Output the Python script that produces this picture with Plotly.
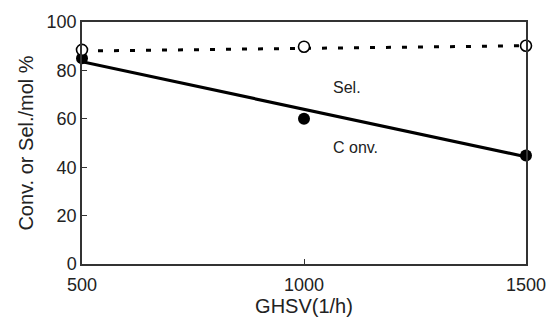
import plotly.graph_objects as go

ghsv = [500, 1000, 1500]
sel = [88.5, 89.8, 90.2]
conv = [85.0, 60.0, 44.8]
sel_fit_x = [500, 1500]
sel_fit_y = [88.0, 90.2]
conv_fit_x = [500, 1500]
conv_fit_y = [83.6, 44.3]

font = "Liberation Sans, Arial, sans-serif"
fig = go.Figure()
fig.add_trace(go.Scatter(x=sel_fit_x, y=sel_fit_y, mode="lines",
                         line=dict(color="black", width=3, dash="5px,11px"), cliponaxis=False))
fig.add_trace(go.Scatter(x=conv_fit_x, y=conv_fit_y, mode="lines",
                         line=dict(color="black", width=3.2), cliponaxis=False))
fig.add_trace(go.Scatter(x=ghsv, y=conv, mode="markers",
                         marker=dict(color="black", size=12), cliponaxis=False))
fig.add_trace(go.Scatter(x=ghsv, y=sel, mode="markers",
                         marker=dict(color="white", size=11, line=dict(color="black", width=1.6)),
                         cliponaxis=False))

fig.add_annotation(x=1060, y=73, text="Sel.", showarrow=False, xanchor="left",
                   font=dict(family=font, size=16, color="#222"))
fig.add_annotation(x=1060, y=48, text="C onv.", showarrow=False, xanchor="left",
                   font=dict(family=font, size=16, color="#222"))

fig.update_layout(
    width=558, height=323, showlegend=False,
    plot_bgcolor="white", paper_bgcolor="white",
    margin=dict(l=82, r=32, t=20, b=59),
    font=dict(family=font, color="#222"),
)
fig.update_xaxes(range=[500, 1500], tickvals=[500, 1000, 1500], ticks="inside", ticklen=5,
                 tickcolor="#333", showline=True, linecolor="#333", linewidth=1.5, mirror=True,
                 showgrid=False, zeroline=False, tickfont=dict(size=18), ticklabelstandoff=4,
                 title=dict(text="GHSV(1/h)", font=dict(size=20), standoff=2))
fig.update_yaxes(range=[0, 100], tickvals=[0, 20, 40, 60, 80, 100], ticks="inside", ticklen=5,
                 tickcolor="#333", showline=True, linecolor="#333", linewidth=1.5, mirror=True,
                 showgrid=False, zeroline=False, tickfont=dict(size=18),
                 title=dict(text="Conv. or Sel./mol %", font=dict(size=20), standoff=8))
fig.write_html("out.html")
